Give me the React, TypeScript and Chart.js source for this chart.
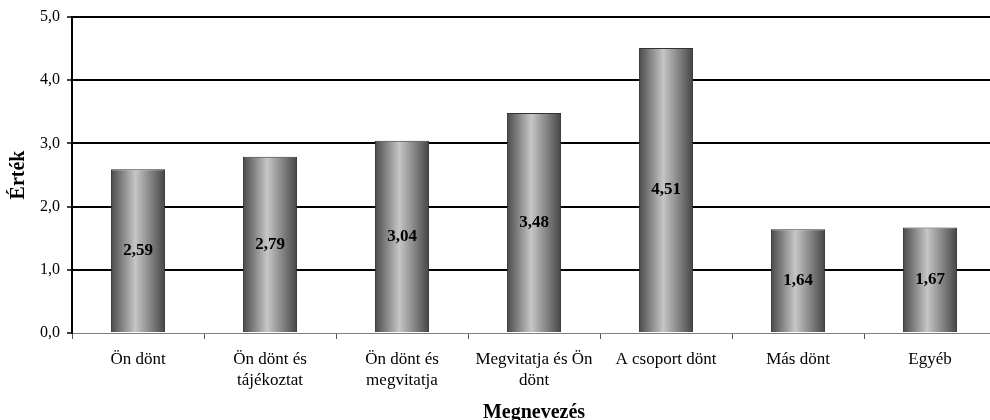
import React, { useEffect, useRef } from "react";
import { Chart, registerables } from "chart.js";

Chart.register(...registerables);

const categories: (string | string[])[] = [
  "Ön dönt",
  ["Ön dönt és", "tájékoztat"],
  ["Ön dönt és", "megvitatja"],
  ["Megvitatja és Ön", "dönt"],
  "A csoport dönt",
  "Más dönt",
  "Egyéb",
];
const values: number[] = [2.59, 2.79, 3.04, 3.48, 4.51, 1.64, 1.67];
const yMin = 0;
const yMax = 5;
const yStep = 1;
const xTitle = "Megnevezés";
const yTitle = "Érték";

const FONT = "'Liberation Serif', 'Times New Roman', serif";
const BAR_PCT = 0.41;
const fmt = (v: number, d: number) => v.toFixed(d).replace(".", ",");

const barGradient = (c: any) => {
  const chart = c.chart;
  const xs = chart.scales && chart.scales.x;
  if (!xs || c.dataIndex === undefined) return "#999";
  const cx = xs.getPixelForValue(c.dataIndex);
  const cw = xs.getPixelForValue(1) - xs.getPixelForValue(0);
  const w = cw * BAR_PCT;
  const l = cx - w / 2;
  if (!isFinite(l) || !isFinite(w)) return "#999";
  const g = chart.ctx.createLinearGradient(l, 0, l + w, 0);
  g.addColorStop(0, "#4a4a4a");
  g.addColorStop(0.45, "#c6c6c6");
  g.addColorStop(1, "#454545");
  return g;
};

const labelPlugin = {
  id: "barLabels",
  afterDatasetsDraw(chart: any) {
    const ctx = chart.ctx;
    const meta = chart.getDatasetMeta(0);
    ctx.save();
    ctx.font = `bold 17px ${FONT}`;
    ctx.fillStyle = "#000";
    ctx.textAlign = "center";
    ctx.textBaseline = "middle";
    meta.data.forEach((bar: any, i: number) => {
      const { x, y, base } = bar.getProps(["x", "y", "base"], true);
      ctx.fillText(fmt(values[i], 2), x, (y + base) / 2);
    });
    ctx.restore();
  },
};

export default function App() {
  const ref = useRef<HTMLCanvasElement | null>(null);
  useEffect(() => {
    if (!ref.current) return;
    const chart = new Chart(ref.current, {
      type: "bar",
      data: {
        labels: categories,
        datasets: [
          {
            data: values,
            backgroundColor: barGradient,
            borderColor: "#333",
            borderWidth: 1,
            categoryPercentage: 1,
            barPercentage: BAR_PCT,
          },
        ],
      },
      options: {
        responsive: false,
        animation: false,
        devicePixelRatio: 1,
        layout: { padding: { top: 17, right: 4, left: 0, bottom: 0 } },
        plugins: {
          legend: { display: false },
          tooltip: { enabled: false },
        },
        scales: {
          x: {
            grid: {
              drawOnChartArea: false,
              drawTicks: true,
              tickLength: 6,
              color: "#555",
              lineWidth: 1,
            },
            border: { display: true, color: "#808080", width: 1 },
            ticks: {
              color: "#000",
              font: { family: FONT, size: 17, lineHeight: 1.18 },
              padding: 11,
              maxRotation: 0,
              autoSkip: false,
            },
            title: {
              display: true,
              text: xTitle,
              color: "#000",
              font: { family: FONT, size: 20, weight: "bold", lineHeight: 1 },
              padding: { top: 0, bottom: -3 },
            },
            afterFit: (s: any) => {
              s.height = 87;
            },
          },
          y: {
            min: yMin,
            max: yMax,
            grid: {
              color: (c: any) => (c.tick && c.tick.value === 0 ? "rgba(0,0,0,0)" : "#000"),
              tickColor: "#000",
              lineWidth: 2,
              tickWidth: 1.5,
              tickLength: 5,
            },
            border: { display: true, color: "#000", width: 2 },
            ticks: {
              stepSize: yStep,
              color: "#000",
              font: { family: FONT, size: 16 },
              padding: 7,
              callback: (v: any) => fmt(Number(v), 1),
            },
            title: {
              display: true,
              text: yTitle,
              color: "#000",
              font: { family: FONT, size: 20, weight: "bold", lineHeight: 1.2 },
              padding: { top: 7, bottom: 0 },
            },
            afterFit: (s: any) => {
              s.width = 72;
            },
          },
        },
      },
      plugins: [labelPlugin],
    });
    return () => chart.destroy();
  }, []);
  return (
    <div
      style={{
        position: "absolute",
        left: 0,
        top: 0,
        width: 990,
        height: 420,
        overflow: "hidden",
        background: "#fff",
      }}
    >
      <canvas ref={ref} width={1000} height={420} style={{ display: "block" }} />
    </div>
  );
}
